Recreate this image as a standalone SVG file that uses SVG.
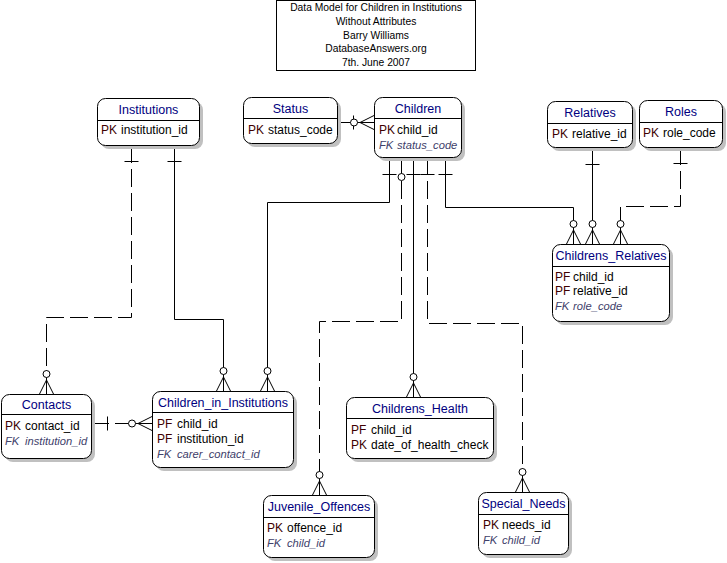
<svg xmlns="http://www.w3.org/2000/svg" width="727" height="563" viewBox="0 0 727 563">
<style>
.bg{fill:#fff}
.shadow{fill:#c0c0c0}
.box{fill:#fff;stroke:#000;stroke-width:1}
.sep{stroke:#000;stroke-width:1}
.ttl{font-family:"Liberation Sans",Arial,sans-serif;font-size:12.5px;fill:#000080;text-anchor:middle}
.row{font-family:"Liberation Sans",Arial,sans-serif;font-size:12px;fill:#000}
.k{fill:#400000}
.fk{font-style:italic;fill:#40406a;font-size:11.2px}
.head{font-family:"Liberation Sans",Arial,sans-serif;font-size:10.3px;fill:#000;text-anchor:middle}
.ln{fill:none;stroke:#000;stroke-width:1}
.dash{stroke-dasharray:18 6}
.mk line{stroke:#000;stroke-width:1}
.mk circle{fill:#fff;stroke:#000;stroke-width:1}
</style>
<defs>
<g id="cf" class="mk">
<line x1="0" y1="-14" x2="-7" y2="0"/>
<line x1="0" y1="-14" x2="7" y2="0"/>
<line x1="0" y1="-24" x2="0" y2="0"/>
<circle cx="0" cy="-20" r="3.5"/>
</g>
<g id="bar" class="mk"><line x1="-7" y1="0" x2="7" y2="0"/></g>
<g id="ring" class="mk"><circle cx="0" cy="0" r="3.5"/></g>
</defs>
<rect class="bg" x="0" y="0" width="727" height="563"/>

<g id="title">
<rect class="box" x="276.5" y="0.5" width="199" height="70"/>
<text class="head" x="376" y="11">Data Model for Children in Institutions</text>
<text class="head" x="376" y="24.75">Without Attributes</text>
<text class="head" x="376" y="38.5">Barry Williams</text>
<text class="head" x="376" y="52.25">DatabaseAnswers.org</text>
<text class="head" x="376" y="66">7th. June 2007</text>
</g>

<g id="connectors">
<polyline class="ln" points="389.5,157 389.5,202.5 267.5,202.5 267.5,391"/>
<polyline class="ln dash" points="401.5,157 401.5,321.5 319.5,321.5 319.5,495"/>
<polyline class="ln" points="413.5,157 413.5,397"/>
<polyline class="ln dash" points="427.5,157 427.5,323.5 522.5,323.5 522.5,492"/>
<polyline class="ln" points="445.5,157 445.5,207.5 573.5,207.5 573.5,244"/>
<polyline class="ln" points="592.5,147 592.5,244"/>
<polyline class="ln dash" points="680.5,147 680.5,206.5 620.5,206.5 620.5,244"/>
<polyline class="ln dash" points="131.5,145 131.5,317.5 46.5,317.5 46.5,394"/>
<polyline class="ln" points="174.5,145 174.5,319.5 223.5,319.5 223.5,391"/>
<polyline class="ln dash" points="91,423.5 152,423.5"/>
<polyline class="ln" points="337,122.5 374,122.5"/>
<use href="#bar" x="389.5" y="174.5"/>
<use href="#ring" x="401.5" y="177"/>
<use href="#bar" x="413.5" y="174.5"/>
<use href="#bar" x="427.5" y="174.5"/>
<use href="#bar" x="445.5" y="174.5"/>
<use href="#bar" x="592.5" y="164.5"/>
<use href="#bar" x="680.5" y="163.5"/>
<use href="#bar" x="131.5" y="161.5"/>
<use href="#bar" x="174.5" y="161.5"/>
<use href="#bar" transform="translate(107.5,423.5) rotate(90)"/>
<use href="#bar" transform="translate(353.5,122.5) rotate(90)"/>
<use href="#cf" x="267.5" y="391"/>
<use href="#cf" x="223.5" y="391"/>
<use href="#cf" x="46.5" y="394"/>
<use href="#cf" x="319.5" y="495"/>
<use href="#cf" x="413.5" y="397"/>
<use href="#cf" x="522.5" y="492"/>
<use href="#cf" x="573.5" y="244"/>
<use href="#cf" x="592.5" y="244"/>
<use href="#cf" x="620.5" y="244"/>
<use href="#cf" transform="translate(152,423.5) rotate(-90)"/>
<use href="#cf" transform="translate(374,122.5) rotate(-90)"/>
</g>

<g id="institutions">
<rect class="shadow" x="101" y="102" width="102" height="47" rx="8"/>
<rect class="box" x="97.5" y="98.5" width="102" height="47" rx="8"/>
<line class="sep" x1="97.5" y1="120.5" x2="199.5" y2="120.5"/>
<text class="ttl" x="148.5" y="114">Institutions</text>
<text class="row" y="134"><tspan class="k" x="101">PK</tspan><tspan x="121">institution_id</tspan></text>
</g>

<g id="status">
<rect class="shadow" x="247" y="101" width="94" height="46" rx="8"/>
<rect class="box" x="243.5" y="97.5" width="94" height="46" rx="8"/>
<line class="sep" x1="243.5" y1="118.5" x2="337.5" y2="118.5"/>
<text class="ttl" x="290.5" y="113">Status</text>
<text class="row" y="134"><tspan class="k" x="248">PK</tspan><tspan x="268">status_code</tspan></text>
</g>

<g id="children">
<rect class="shadow" x="378" y="101" width="87" height="60" rx="8"/>
<rect class="box" x="374.5" y="97.5" width="87" height="60" rx="8"/>
<line class="sep" x1="374.5" y1="118.5" x2="461.5" y2="118.5"/>
<text class="ttl" x="418" y="113">Children</text>
<text class="row" y="133.5"><tspan class="k" x="379">PK</tspan><tspan x="397">child_id</tspan></text>
<text class="row fk" y="149"><tspan x="379">FK</tspan><tspan x="397">status_code</tspan></text>
</g>

<g id="relatives">
<rect class="shadow" x="551" y="105" width="85" height="46" rx="8"/>
<rect class="box" x="547.5" y="101.5" width="85" height="46" rx="8"/>
<line class="sep" x1="547.5" y1="123.5" x2="632.5" y2="123.5"/>
<text class="ttl" x="590" y="117">Relatives</text>
<text class="row" y="138"><tspan class="k" x="552">PK</tspan><tspan x="572">relative_id</tspan></text>
</g>

<g id="roles">
<rect class="shadow" x="643" y="104" width="83" height="47" rx="8"/>
<rect class="box" x="639.5" y="100.5" width="83" height="47" rx="8"/>
<line class="sep" x1="639.5" y1="122.5" x2="722.5" y2="122.5"/>
<text class="ttl" x="681" y="116">Roles</text>
<text class="row" y="137"><tspan class="k" x="643">PK</tspan><tspan x="663">role_code</tspan></text>
</g>

<g id="childrens_relatives">
<rect class="shadow" x="556" y="248" width="117" height="77" rx="8"/>
<rect class="box" x="552.5" y="244.5" width="117" height="77" rx="8"/>
<line class="sep" x1="552.5" y1="266.5" x2="669.5" y2="266.5"/>
<text class="ttl" x="611" y="260">Childrens_Relatives</text>
<text class="row" y="280.5"><tspan class="k" x="555">PF</tspan><tspan x="573">child_id</tspan></text>
<text class="row" y="295"><tspan class="k" x="555">PF</tspan><tspan x="573">relative_id</tspan></text>
<text class="row fk" y="309.5"><tspan x="555">FK</tspan><tspan x="573">role_code</tspan></text>
</g>

<g id="contacts">
<rect class="shadow" x="5" y="398" width="90" height="64" rx="8"/>
<rect class="box" x="1.5" y="394.5" width="90" height="64" rx="8"/>
<line class="sep" x1="1.5" y1="414.5" x2="91.5" y2="414.5"/>
<text class="ttl" x="46.5" y="409">Contacts</text>
<text class="row" y="429.5"><tspan class="k" x="5">PK</tspan><tspan x="25">contact_id</tspan></text>
<text class="row fk" y="444.5"><tspan x="5">FK</tspan><tspan x="25">institution_id</tspan></text>
</g>

<g id="children_in_institutions">
<rect class="shadow" x="156" y="395" width="141" height="76" rx="8"/>
<rect class="box" x="152.5" y="391.5" width="141" height="76" rx="8"/>
<line class="sep" x1="152.5" y1="412.5" x2="293.5" y2="412.5"/>
<text class="ttl" x="223" y="407">Children_in_Institutions</text>
<text class="row" y="427.5"><tspan class="k" x="157">PF</tspan><tspan x="177">child_id</tspan></text>
<text class="row" y="442.5"><tspan class="k" x="157">PF</tspan><tspan x="177">institution_id</tspan></text>
<text class="row fk" y="457.5"><tspan x="157">FK</tspan><tspan x="177">carer_contact_id</tspan></text>
</g>

<g id="childrens_health">
<rect class="shadow" x="350" y="401" width="147" height="61" rx="8"/>
<rect class="box" x="346.5" y="397.5" width="147" height="61" rx="8"/>
<line class="sep" x1="346.5" y1="418.5" x2="493.5" y2="418.5"/>
<text class="ttl" x="420" y="413">Childrens_Health</text>
<text class="row" y="433.5"><tspan class="k" x="351">PF</tspan><tspan x="371">child_id</tspan></text>
<text class="row" y="448.5"><tspan class="k" x="351">PK</tspan><tspan x="371">date_of_health_check</tspan></text>
</g>

<g id="juvenile_offences">
<rect class="shadow" x="267" y="499" width="111" height="62" rx="8"/>
<rect class="box" x="263.5" y="495.5" width="111" height="62" rx="8"/>
<line class="sep" x1="263.5" y1="517.5" x2="374.5" y2="517.5"/>
<text class="ttl" x="319" y="511">Juvenile_Offences</text>
<text class="row" y="532"><tspan class="k" x="267">PK</tspan><tspan x="287">offence_id</tspan></text>
<text class="row fk" y="547"><tspan x="267">FK</tspan><tspan x="287">child_id</tspan></text>
</g>

<g id="special_needs">
<rect class="shadow" x="482" y="496" width="90" height="62" rx="8"/>
<rect class="box" x="478.5" y="492.5" width="90" height="62" rx="8"/>
<line class="sep" x1="478.5" y1="514.5" x2="568.5" y2="514.5"/>
<text class="ttl" x="523.5" y="508">Special_Needs</text>
<text class="row" y="529"><tspan class="k" x="483">PK</tspan><tspan x="502">needs_id</tspan></text>
<text class="row fk" y="544"><tspan x="483">FK</tspan><tspan x="502">child_id</tspan></text>
</g>
</svg>
